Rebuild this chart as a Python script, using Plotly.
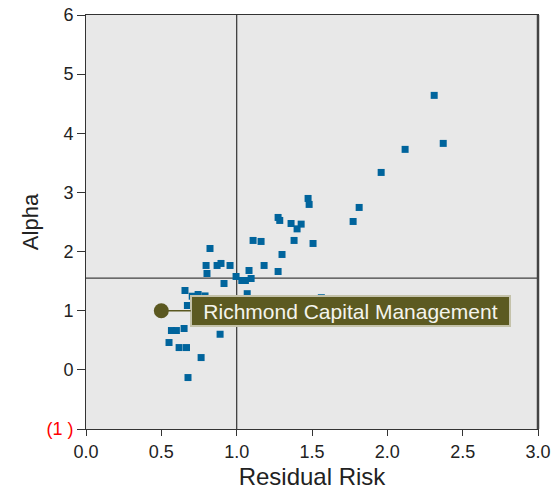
import plotly.graph_objects as go

# Peer managers: residual risk (x) vs alpha (y)
risk = [2.311, 2.371, 2.118, 1.959, 1.474, 1.481, 1.813, 1.773, 1.275, 1.286,
        1.361, 1.428, 1.401, 1.109, 1.162, 1.381, 1.507, 0.823, 1.301, 0.797,
        0.870, 0.896, 0.956, 1.182, 0.803, 1.082, 1.275, 0.996, 1.034, 1.058,
        1.096, 0.916, 0.657, 1.070, 0.705, 0.744, 0.790, 1.562, 0.673, 0.567,
        0.600, 0.651, 0.551, 0.618, 0.667, 0.890, 0.764, 0.677]
alpha = [4.641, 3.829, 3.728, 3.338, 2.898, 2.797, 2.746, 2.509, 2.577, 2.526,
         2.475, 2.464, 2.384, 2.188, 2.171, 2.188, 2.137, 2.052, 1.951, 1.765,
         1.765, 1.799, 1.765, 1.765, 1.629, 1.680, 1.663, 1.579, 1.511, 1.511,
         1.545, 1.460, 1.342, 1.288, 1.245, 1.274, 1.250, 1.220, 1.088, 0.665,
         0.665, 0.699, 0.462, 0.377, 0.377, 0.602, 0.208, -0.130]

manager_name = "Richmond Capital Management"
manager_risk = [0.5]
manager_alpha = [1.0]

ref_risk = 1.0
ref_alpha = 1.55

x_ticks = [0.0, 0.5, 1.0, 1.5, 2.0, 2.5, 3.0]
x_ticktext = ["0.0", "0.5", "1.0", "1.5", "2.0", "2.5", "3.0"]
y_ticks = [-1, 0, 1, 2, 3, 4, 5, 6]
y_ticktext = ['<span style="color:#ff0000">(1 )</span>', "0", "1", "2", "3", "4", "5", "6"]

BLUE = "#00649c"
OLIVE = "#5b5820"
AXIS = "#333333"
FONT = "Liberation Sans, Arial, sans-serif"

fig = go.Figure()

fig.add_trace(go.Scatter(
    x=risk, y=alpha, mode="markers",
    marker=dict(symbol="square", size=7, color=BLUE, line=dict(width=0)),
    showlegend=False, hoverinfo="x+y",
))

fig.add_trace(go.Scatter(
    x=manager_risk, y=manager_alpha, mode="markers",
    marker=dict(symbol="circle", size=15, color=OLIVE, line=dict(width=0)),
    showlegend=False, name=manager_name,
))

# reference lines
fig.add_shape(type="line", xref="x", yref="paper", x0=ref_risk, x1=ref_risk, y0=0, y1=1,
              line=dict(color="#404040", width=1.3), layer="below")
fig.add_shape(type="line", xref="paper", yref="y", x0=0, x1=1, y0=ref_alpha, y1=ref_alpha,
              line=dict(color="#404040", width=1.3), layer="below")
# thicker right frame edge
fig.add_shape(type="line", xref="paper", yref="paper", x0=1, x1=1, y0=0, y1=1,
              line=dict(color="#444444", width=2.5))

fig.add_annotation(
    x=manager_risk[0], y=manager_alpha[0], xref="x", yref="y",
    text=manager_name, showarrow=True, arrowhead=0, arrowwidth=1.5,
    arrowcolor=OLIVE, ax=189, ay=0, standoff=0,
    font=dict(family=FONT, size=21, color="#f4f4ec"),
    bgcolor="#5c5a21", bordercolor="#c4c2aa", borderwidth=2, borderpad=1,
    width=315, height=26, align="center",
)

fig.update_layout(
    width=556, height=491,
    margin=dict(l=86, r=18, t=15, b=62),
    paper_bgcolor="white", plot_bgcolor="#e8e8e8",
    font=dict(family=FONT, size=18, color="#222222"),
    showlegend=False,
)

fig.update_xaxes(
    range=[0, 3], tickvals=x_ticks, ticktext=x_ticktext, automargin=False,
    showgrid=False, zeroline=False,
    showline=True, linecolor=AXIS, linewidth=1, mirror=True,
    ticks="outside", ticklen=6, tickcolor=AXIS,
    title=dict(text="Residual Risk", font=dict(size=24, color="#222222"), standoff=7),
)
fig.update_yaxes(
    range=[-1, 6], tickvals=y_ticks, ticktext=y_ticktext, automargin=False,
    showgrid=False, zeroline=False,
    showline=True, linecolor=AXIS, linewidth=1, mirror=True,
    ticks="outside", ticklen=8, tickcolor=AXIS,
    title=dict(text="Alpha", font=dict(size=22, color="#222222"), standoff=1),
)

# remove the browser's default body margin so the figure fills the window exactly
fig.write_html("out.html", config={"displayModeBar": False},
               post_script="document.body.style.margin='0';")
